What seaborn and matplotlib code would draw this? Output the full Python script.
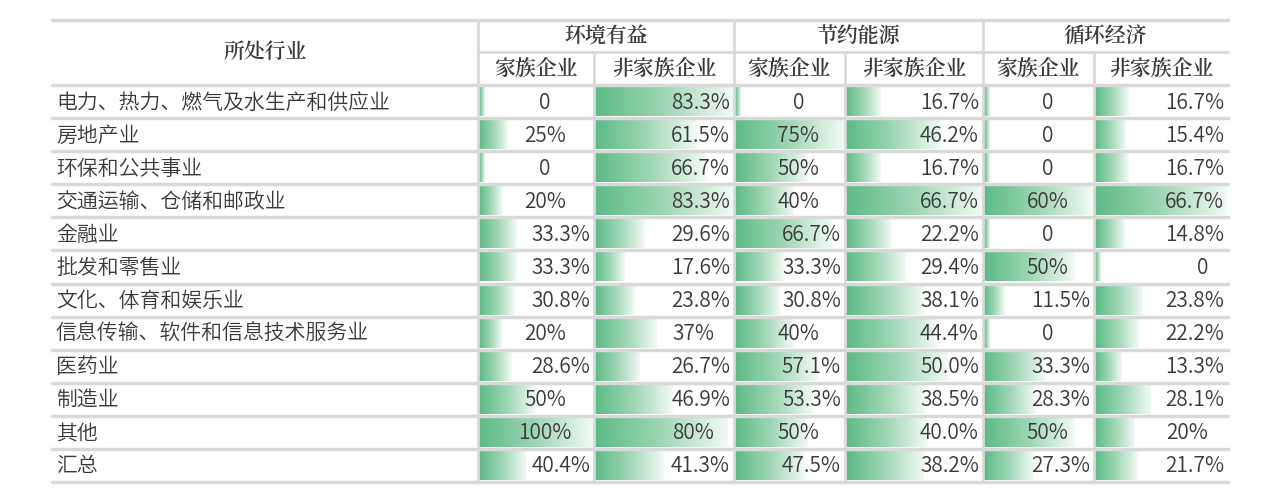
import numpy as np
import matplotlib
matplotlib.use("Agg")
import matplotlib.pyplot as plt
import seaborn as sns
from matplotlib import font_manager as fm
from matplotlib.colors import LinearSegmentedColormap

sns.set_theme(style="white")

def find_font(bold):
    files = [f for f in fm.findSystemFonts() if "CJK" in f and "Noto" in f]
    pref = ["Bold"] if bold else ["DemiLight", "Light", "Regular"]
    for p in pref:
        for f in files:
            if p in f and ("SC" in f or ".ttc" in f):
                return f
    return files[0] if files else None

fr, fb = find_font(False), find_font(True)
FP = fm.FontProperties(fname=fr, size=15) if fr else fm.FontProperties(family="Noto Sans CJK SC", size=15)
FB = fm.FontProperties(fname=fb, size=15) if fb else fm.FontProperties(family="Noto Sans CJK SC", weight="bold", size=15)

industries = ["电力、热力、燃气及水生产和供应业", "房地产业", "环保和公共事业", "交通运输、仓储和邮政业",
              "金融业", "批发和零售业", "文化、体育和娱乐业", "信息传输、软件和信息技术服务业",
              "医药业", "制造业", "其他", "汇总"]
groups = ["环境有益", "节约能源", "循环经济"]
subheaders = ["家族企业", "非家族企业"]
env_fam = ["0", "25%", "0", "20%", "33.3%", "33.3%", "30.8%", "20%", "28.6%", "50%", "100%", "40.4%"]
env_non = ["83.3%", "61.5%", "66.7%", "83.3%", "29.6%", "17.6%", "23.8%", "37%", "26.7%", "46.9%", "80%", "41.3%"]
eng_fam = ["0", "75%", "50%", "40%", "66.7%", "33.3%", "30.8%", "40%", "57.1%", "53.3%", "50%", "47.5%"]
eng_non = ["16.7%", "46.2%", "16.7%", "66.7%", "22.2%", "29.4%", "38.1%", "44.4%", "50.0%", "38.5%", "40.0%", "38.2%"]
cir_fam = ["0", "0", "0", "60%", "0", "50%", "11.5%", "0", "33.3%", "28.3%", "50%", "27.3%"]
cir_non = ["16.7%", "15.4%", "16.7%", "66.7%", "14.8%", "0", "23.8%", "22.2%", "13.3%", "28.1%", "20%", "21.7%"]
columns = [env_fam, env_non, eng_fam, eng_non, cir_fam, cir_non]

def val(s):
    return float(s.rstrip("%")) if s != "0" else 0.0

W, H = 1269, 501
fig = plt.figure(figsize=(W / 100, H / 100), dpi=100)
ax = fig.add_axes([0, 0, 1, 1])
ax.set_xlim(0, W); ax.set_ylim(H, 0); ax.axis("off")

xb = [52, 478, 594, 734, 845, 983, 1094, 1228]
top, mid, hb = 20, 52, 85
rh = (482 - hb) / 12
txt = "#3a3a3a"
grid = "#d9d9d9"
cmap = LinearSegmentedColormap.from_list("g", ["#5cbb86", "#9fd6b5", "#f2faf5"])
grad = np.linspace(0, 1, 200).reshape(1, -1)

for ci, col in enumerate(columns):
    x0, x1 = xb[ci + 1], xb[ci + 2]
    cw = x1 - x0 - 2
    mx = max(val(s) for s in col)
    for ri, s in enumerate(col):
        y0 = hb + ri * rh
        w = max(cw * val(s) / mx, 6)
        ax.imshow(grad, cmap=cmap, aspect="auto", extent=(x0 + 1, x0 + 1 + w, y0 + rh - 2, y0 + 3),
                  interpolation="bilinear", zorder=1)
        fam = ci % 2 == 0
        yc = y0 + rh / 2 + 1
        if "." in s:
            ax.text(x1 - 4, yc, s, ha="right", va="center", fontproperties=FP, color=txt, zorder=3)
        elif fam:
            ax.text((x0 + x1) / 2 + 9, yc, s, ha="center", va="center", fontproperties=FP, color=txt, zorder=3)
        else:
            ax.text(x1 - 20, yc, s, ha="right", va="center", fontproperties=FP, color=txt, zorder=3)

ax.set_xlim(0, W); ax.set_ylim(H, 0)

for ri, name in enumerate(industries):
    y0 = hb + ri * rh
    ax.text(56, y0 + rh / 2 + 1, name, ha="left", va="center", fontproperties=FP, color=txt)

ax.text((xb[0] + xb[1]) / 2, (top + hb) / 2, "所处行业", ha="center", va="center", fontproperties=FB, color=txt)
for gi, g in enumerate(groups):
    a, b = xb[1 + 2 * gi], xb[3 + 2 * gi]
    ax.text((a + b) / 2, (top + mid) / 2 + 1, g, ha="center", va="center", fontproperties=FB, color=txt)
    for si, sh in enumerate(subheaders):
        c0, c1 = xb[1 + 2 * gi + si], xb[2 + 2 * gi + si]
        ax.text((c0 + c1) / 2, (mid + hb) / 2 + 1, sh, ha="center", va="center", fontproperties=FB, color=txt)

ax.plot([xb[0], xb[-1]], [top, top], color=grid, lw=2.5, zorder=4)
for ri in range(13):
    y = hb + ri * rh
    ax.plot([xb[0], xb[-1]], [y, y], color=grid, lw=2.5, zorder=4)
ax.plot([xb[1], xb[-1]], [mid, mid], color=grid, lw=2, zorder=4)
for i, x in enumerate(xb[1:-1]):
    y_start = top if i % 2 == 0 else mid
    ax.plot([x, x], [y_start, 482], color=grid, lw=2, zorder=4)

fig.savefig("out.png", dpi=100)
